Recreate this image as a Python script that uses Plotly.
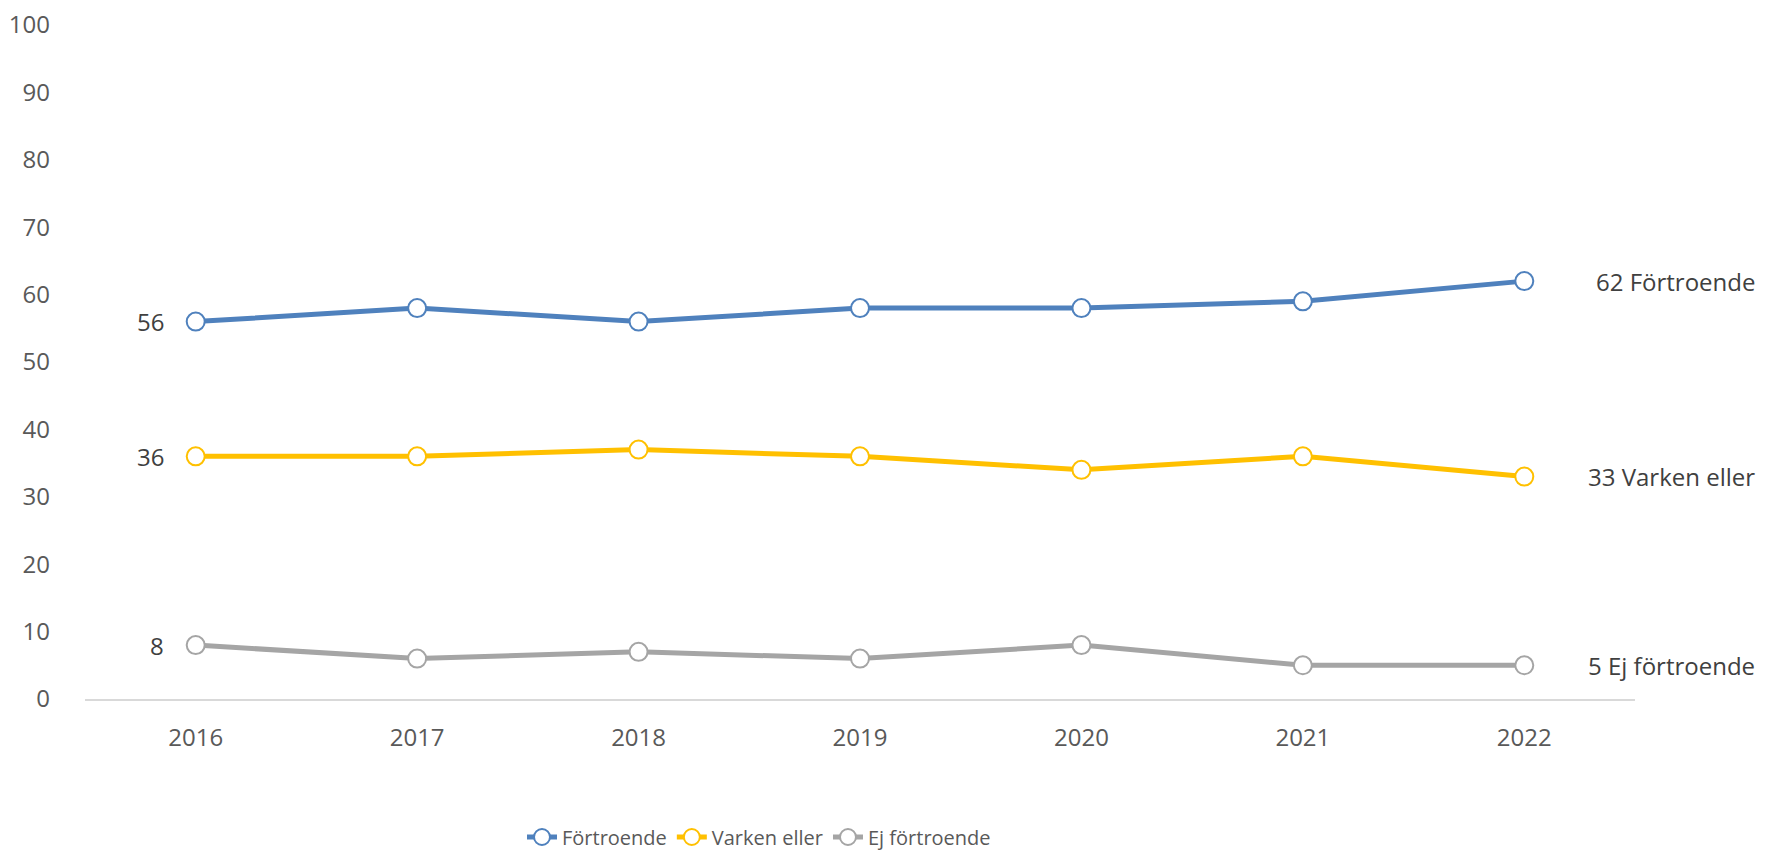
import plotly.graph_objects as go

years = ["2016", "2017", "2018", "2019", "2020", "2021", "2022"]
fortroende = [56, 58, 56, 58, 58, 59, 62]
varken = [36, 36, 37, 36, 34, 36, 33]
ej = [8, 6, 7, 6, 8, 5, 5]
series_names = ["Förtroende", "Varken eller", "Ej förtroende"]
colors = ["#4F81BD", "#FFC000", "#A5A5A5"]
yticks = [0, 10, 20, 30, 40, 50, 60, 70, 80, 90, 100]

FONT = "Open Sans"
# page body has an 8px margin, so the figure is drawn 8px smaller / offset
W, H = 1763, 845
L, R, T, B = 77, 136, 17, 154
PW = W - L - R
PH = H - T - B

fig = go.Figure()
for name, vals, col in zip(series_names, [fortroende, varken, ej], colors):
    fig.add_trace(go.Scatter(
        x=list(range(len(years))), y=vals, name=name, mode="lines+markers",
        line=dict(color=col, width=5),
        marker=dict(size=18, color="white", line=dict(color=col, width=2)),
        cliponaxis=False,
    ))
    # start label
    fig.add_annotation(x=0, y=vals[0], xref="x", yref="y", text=str(vals[0]),
                       xanchor="right", yanchor="middle", xshift=-30, showarrow=False,
                       font=dict(family=FONT, size=24, color="#404040"))
    # end label
    fig.add_annotation(x=(1749 - L) / PW, y=vals[-1], xref="paper", yref="y",
                       text=f"{vals[-1]} {name}", xanchor="right", yanchor="middle",
                       showarrow=False, font=dict(family=FONT, size=24, color="#404040"))

fig.update_layout(
    width=W, height=H,
    margin=dict(l=L, r=R, t=T, b=B, autoexpand=False),
    plot_bgcolor="white", paper_bgcolor="white",
    font=dict(family=FONT, size=24, color="#595959"),
    showlegend=True,
    legend=dict(orientation="h", x=(514 - L) / PW, xanchor="left",
                y=-(829 - (H - B)) / PH, yanchor="middle",
                font=dict(family=FONT, size=20, color="#595959"),
                itemwidth=30, tracegroupgap=0),
    xaxis=dict(range=[-0.5, 6.5], tickmode="array", tickvals=list(range(len(years))),
               ticktext=years, showgrid=False, zeroline=False, showline=True,
               linecolor="#D9D9D9", linewidth=1.5, ticks="", ticklabelstandoff=16,
               automargin=False, ticklabeloverflow="allow"),
    yaxis=dict(range=[0, 100], tickmode="array", tickvals=yticks, showgrid=False,
               zeroline=False, showline=False, ticks="", ticklabelstandoff=34,
               automargin=False, ticklabeloverflow="allow"),
)

fig.write_html("out.html")
